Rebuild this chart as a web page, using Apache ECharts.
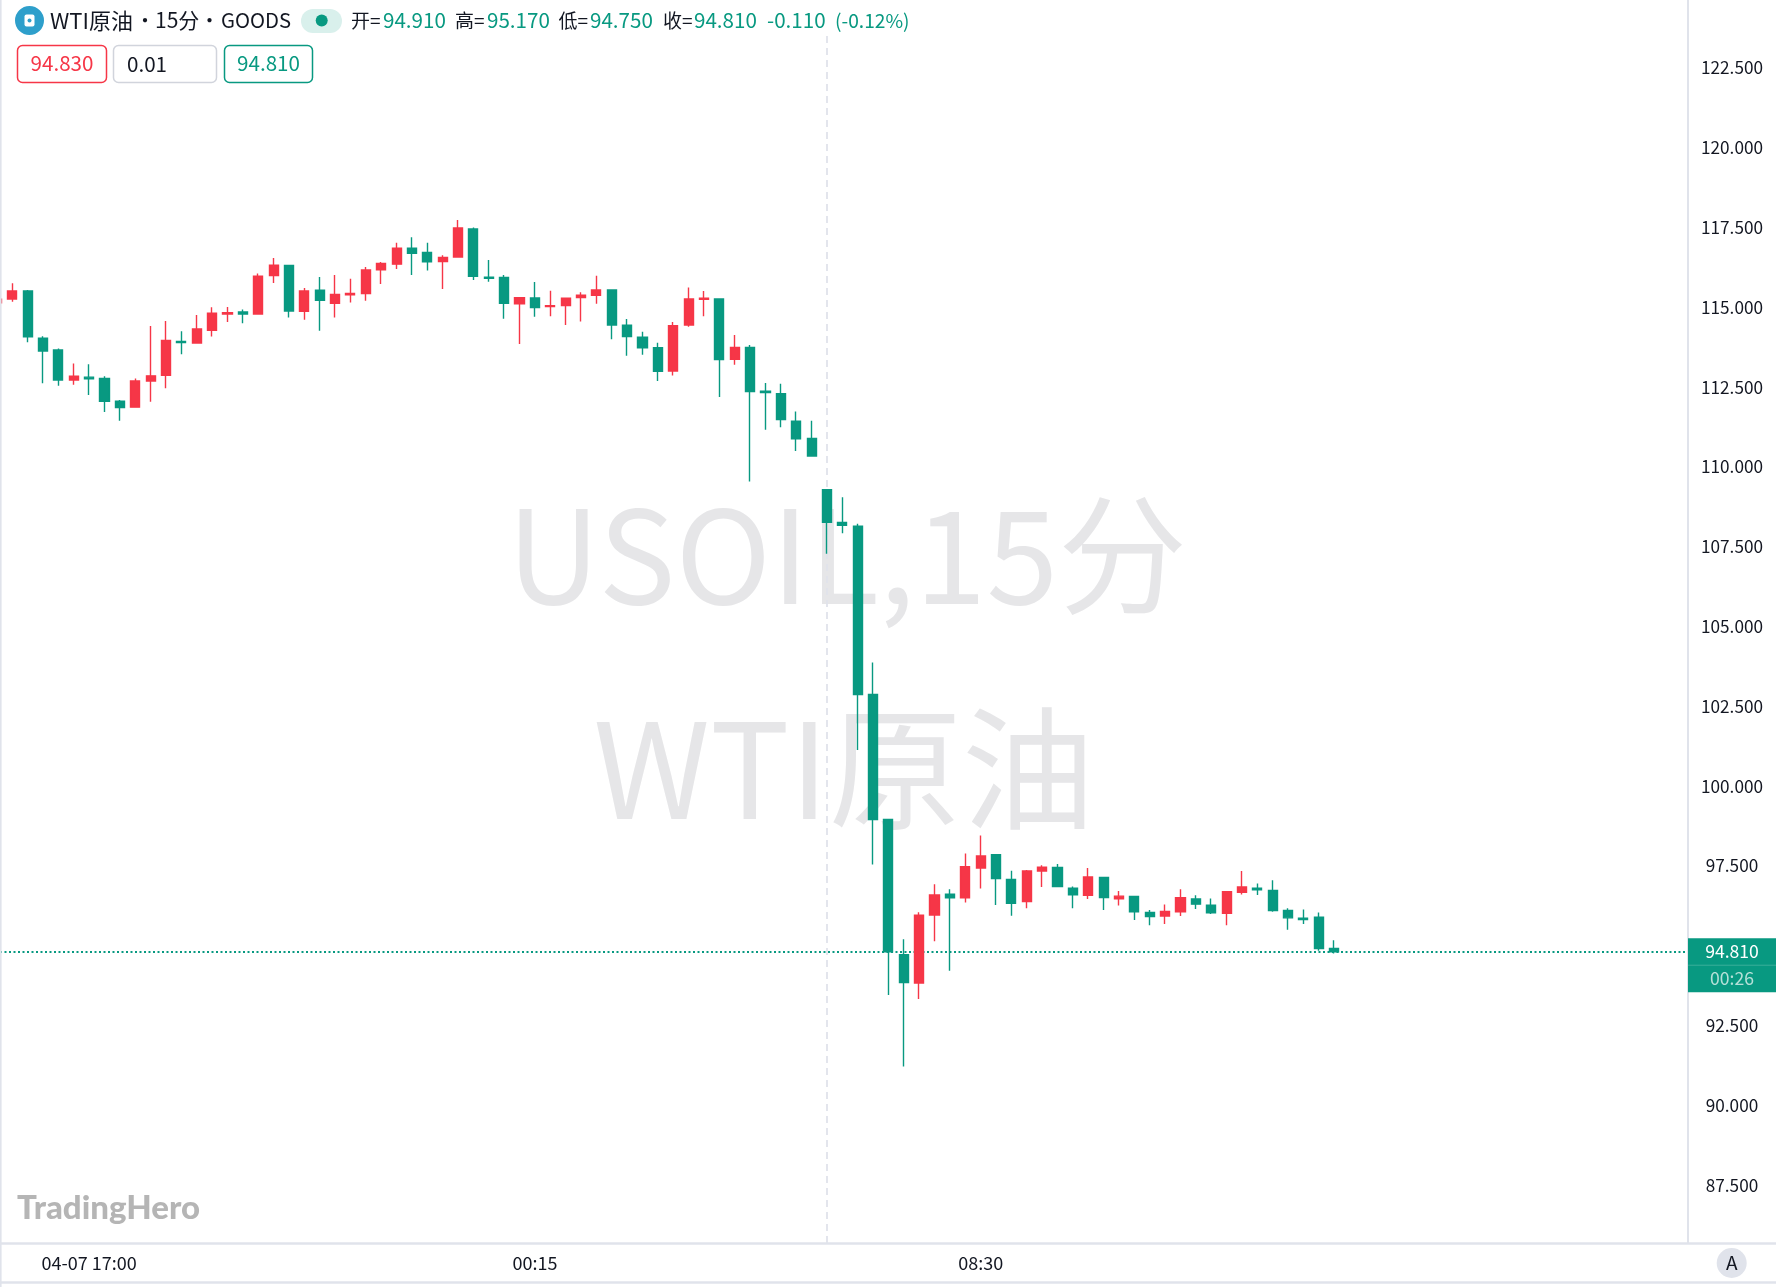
<!DOCTYPE html>
<html><head><meta charset="utf-8">
<style>html,body{margin:0;padding:0;background:#fff}#c{width:1776px;height:1287px}</style>
<script src="https://cdn.jsdelivr.net/npm/echarts@6/dist/echarts.min.js"></script>
</head><body><div id="c"></div>
<script>
const opens=[115.14,115.26,115.51,114.03,113.66,112.72,112.81,112.77,112.06,111.87,112.69,112.87,113.93,113.88,114.28,114.79,114.85,114.79,115.99,116.31,114.87,115.53,115.12,115.39,115.43,116.17,116.35,116.85,116.72,116.43,116.57,117.45,115.94,115.93,115.11,115.29,115.02,115.05,115.30,115.37,115.54,114.44,114.06,113.73,113.00,114.44,115.25,115.26,113.37,113.74,112.37,112.29,111.43,110.89,109.28,108.26,108.14,102.87,98.95,94.72,93.83,95.96,96.61,96.50,97.43,97.85,97.07,96.38,97.34,97.45,96.80,96.58,97.14,96.47,96.54,96.04,95.93,96.06,96.46,96.27,96.01,96.67,96.80,96.73,96.10,95.86,95.89,94.91];
const closes=[115.25,115.51,114.07,113.63,112.72,112.84,112.76,112.05,111.86,112.69,112.85,113.96,113.89,114.32,114.81,114.83,114.79,115.97,116.32,114.88,115.51,115.22,115.40,115.43,116.17,116.37,116.85,116.69,116.42,116.56,117.48,115.97,115.91,115.12,115.30,114.99,115.05,115.28,115.38,115.54,114.44,114.08,113.73,112.99,114.42,115.26,115.28,113.36,113.74,112.36,112.33,111.48,110.88,110.34,108.26,108.17,102.87,98.95,94.81,93.84,95.95,96.59,96.50,97.47,97.81,97.10,96.33,97.34,97.46,96.85,96.59,97.15,96.51,96.55,96.06,95.91,96.07,96.50,96.30,96.03,96.69,96.84,96.75,96.10,95.87,95.82,94.91,94.81];
const lows=[115.10,115.17,113.90,112.62,112.54,112.57,112.25,111.72,111.44,111.85,112.04,112.46,113.53,113.87,114.08,114.54,114.50,114.77,115.76,114.68,114.61,114.26,114.68,115.15,115.20,115.73,116.20,116.01,116.15,115.57,116.56,115.85,115.80,114.64,113.85,114.70,114.72,114.44,114.55,115.11,114.00,113.48,113.51,112.69,112.86,114.39,114.72,112.19,113.20,109.54,111.16,111.24,110.50,110.32,107.28,107.92,101.13,97.54,93.45,91.21,93.33,95.14,94.21,96.35,96.79,96.27,95.94,96.17,96.84,96.85,96.17,96.46,96.12,96.26,95.80,95.64,95.68,95.93,96.15,95.99,95.64,96.60,96.59,96.06,95.50,95.68,94.84,94.75];
const highs=[115.30,115.75,115.54,114.09,113.71,113.24,113.21,112.84,112.09,112.77,114.41,114.57,114.25,114.76,115.00,115.01,114.93,116.06,116.54,116.32,115.60,115.95,116.01,115.89,116.26,116.42,117.02,117.19,117.02,116.63,117.73,117.50,116.48,116.01,115.31,115.79,115.52,115.29,115.47,115.99,115.54,114.63,114.23,113.89,114.54,115.62,115.51,115.28,114.13,113.82,112.63,112.60,111.73,111.44,109.28,109.05,108.22,103.87,98.95,95.20,96.05,96.92,96.77,97.89,98.45,97.87,97.35,97.37,97.52,97.56,96.85,97.43,97.14,96.71,96.55,96.12,96.29,96.77,96.58,96.48,96.71,97.34,96.95,97.05,96.17,96.13,96.04,95.17];
const timeTicks=[5,34,63];
const timeNames=['04-07 17:00','00:15','08:30'];
const yTicks=[87.5,90,92.5,97.5,100,102.5,105,107.5,110,112.5,115,117.5,120,122.5];
const lastPrice=94.81, crossBar=53, crossTopPrice=123.5;
const xMin=-0.8, xMax=109.02, yMin=85.675, yMax=124.625;
const GREEN='#089981', RED='#F63647', LINE='#E0E3EB', CJK='"Noto Sans CJK SC"';

const ohlc=opens.map((o,i)=>[i-1,o,closes[i],lows[i],highs[i]]);

const chart=echarts.init(document.getElementById('c'),null,{renderer:'canvas'});
function txt(x,y,text,fill,size,align,extra){
  return Object.assign({type:'text',x,y,z:100,silent:true,style:{text,fill,fontSize:size||20,fontFamily:CJK,textAlign:align||'left',textVerticalAlign:'middle'}},extra||{});
}
function box(x0,y0,x1,y1,stroke){
  return {type:'rect',z:100,silent:true,shape:{x:x0,y:y0,width:x1-x0,height:y1-y0,r:5},style:{fill:'#fff',stroke,lineWidth:1.5}};
}
function hline(x0,x1,y,c,w){return {type:'line',z:100,silent:true,shape:{x1:x0,y1:y,x2:x1,y2:y},style:{stroke:c,lineWidth:w||2}};}
function vline(x,y0,y1,c,w){return {type:'line',z:100,silent:true,shape:{x1:x,y1:y0,x2:x,y2:y1},style:{stroke:c,lineWidth:w||2}};}

chart.setOption({
  animation:false,
  backgroundColor:'#fff',
  grid:{left:0,top:0,right:88,height:1243.3,containLabel:false},
  xAxis:{type:'value',min:xMin,max:xMax,scale:true,
    axisLine:{show:false},axisTick:{show:false},splitLine:{show:false},
    axisLabel:{customValues:timeTicks,margin:11,color:'#131722',fontSize:18,fontFamily:CJK,hideOverlap:false,lineHeight:18,
      formatter:v=>timeNames[timeTicks.indexOf(v)]}},
  yAxis:{type:'value',position:'right',min:yMin,max:yMax,scale:true,
    axisLine:{show:false},axisTick:{show:false},splitLine:{show:false},
    axisLabel:{customValues:yTicks,margin:44,align:'center',color:'#131722',fontSize:17.2,fontFamily:CJK,formatter:v=>v.toFixed(3)}},
  series:[{type:'candlestick',data:ohlc,barWidth:9.6,clip:true,z:5,
    itemStyle:{color:RED,color0:GREEN,borderColor:RED,borderColor0:GREEN,borderWidth:1.4},
    markLine:{silent:true,symbol:'none',animation:false,label:{show:false},z:4,
      data:[
        [{coord:[crossBar,crossTopPrice],lineStyle:{color:'#E0E3EB',type:[7,5],width:1.8}},{coord:[crossBar,yMin]}],
        {yAxis:lastPrice,lineStyle:{color:GREEN,type:[2,2.5],width:2}}
      ]}
  }]
});

const lastY=chart.convertToPixel({yAxisIndex:0},lastPrice);
chart.setOption({graphic:{elements:[
  {type:'text',x:847,y:555,z:1,silent:true,style:{text:'USOIL,15分',fill:'#E6E6E8',fontSize:129,fontFamily:CJK,textAlign:'center',textVerticalAlign:'middle'}},
  {type:'text',x:844,y:768,z:1,silent:true,style:{text:'WTI原油',fill:'#E6E6E8',fontSize:133,fontFamily:CJK,textAlign:'center',textVerticalAlign:'middle'}},
  {type:'text',x:17,y:1208,z:100,silent:true,style:{text:'TradingHero',fill:'#B5B5B5',fontSize:33,fontWeight:900,fontFamily:'Lato',textAlign:'left',textVerticalAlign:'middle'}},
  vline(0.8,0,1287,LINE,1.6),
  vline(1688,0,1243,LINE,2),
  hline(0,1776,1243.5,LINE,2.5),
  hline(0,1776,1282.5,LINE,2.5),
  {type:'circle',z:100,silent:true,shape:{cx:1731.7,cy:1263,r:15},style:{fill:LINE}},
  txt(1731.7,1263,'A','#131722',19,'center'),
  {type:'rect',z:100,silent:true,shape:{x:1688,y:lastY-13.5,width:88,height:54},style:{fill:GREEN}},
  hline(1688,1776,lastY+13.5,'#3AAE99',1),
  txt(1732,lastY,'94.810','#fff',17.6,'center'),
  txt(1732,lastY+27,'00:26','#B5E0D8',17.6,'center'),
  {type:'circle',z:100,silent:true,shape:{cx:29.5,cy:20.4,r:14.5},style:{fill:'#2E9FCB'}},
  {type:'rect',z:101,silent:true,shape:{x:24.5,y:14.5,width:10,height:12,r:2},style:{fill:'#fff'}},
  {type:'circle',z:102,silent:true,shape:{cx:29.5,cy:20.5,r:2},style:{fill:'#2E9FCB'}},
  txt(50,20.4,'WTI原油','#131722',22),
  txt(145,20.4,'•','#131722',20,'center'),
  txt(155,20.4,'15分','#131722',21),
  txt(209.6,20.4,'•','#131722',20,'center'),
  txt(221,20.4,'GOODS','#131722',20.3),
  {type:'rect',z:100,silent:true,shape:{x:301,y:9,width:41,height:24,r:12},style:{fill:'#D9F0EC'}},
  {type:'circle',z:101,silent:true,shape:{cx:321.7,cy:20.4,r:6},style:{fill:GREEN}},
  txt(351,20.4,'开=','#131722',19), txt(383,20.4,'94.910',GREEN,20.6),
  txt(455,20.4,'高=','#131722',19), txt(487,20.4,'95.170',GREEN,20.6),
  txt(558.5,20.4,'低=','#131722',19), txt(590,20.4,'94.750',GREEN,20.6),
  txt(663,20.4,'收=','#131722',19), txt(694,20.4,'94.810',GREEN,20.6),
  txt(767,20.4,'-0.110',GREEN,20.6), txt(835,20.4,'(-0.12%)',GREEN,19.2),
  box(17.5,45.5,106.5,82.5,RED), txt(62,63.6,'94.830',RED,20.6,'center'),
  box(113.5,45.5,216.5,82.5,'#D1D4DC'), txt(127,64,'0.01','#131722',20.6),
  box(224.5,45.5,312.5,82.5,GREEN), txt(268.5,63.6,'94.810',GREEN,20.6,'center')
]}});
</script></body></html>
